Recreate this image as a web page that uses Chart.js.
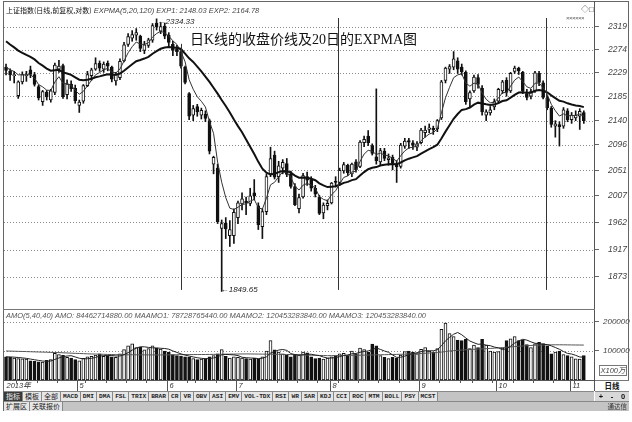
<!DOCTYPE html>
<html>
<head>
<meta charset="utf-8">
<script src="https://cdn.jsdelivr.net/npm/chart.js@4/dist/chart.umd.min.js"></script>
<style>
  html, body { margin: 0; padding: 0; background: #fff; }
  body { width: 632px; height: 422px; position: relative; overflow: hidden; font-family: "Liberation Sans", "Noto Sans CJK SC", sans-serif; }
  canvas { position: absolute; left: 0; }
  .abs { position: absolute; white-space: nowrap; }
  #frame { position: absolute; left: 3px; top: 1px; width: 626px; height: 410px; border: 1px solid #666; box-sizing: border-box; }
  #axisSep { position: absolute; left: 594px; top: 1px; width: 1px; height: 390px; background: #555; }
  #panelSep { position: absolute; left: 3px; top: 309px; width: 592px; height: 1px; background: #777; }
  #hdr { left: 6px; top: 5px; font-size: 7.5px; color: #111; line-height: 10px; }
  #hdr .cn { font-family: "Noto Sans CJK SC"; font-size: 7px; }
  #hdr .it { font-style: italic; color: #444; }
  #title { left: 190px; top: 31px; font-size: 14px; line-height: 18px; color: #111; font-family: "Liberation Serif", "Noto Sans CJK SC", serif; }
  #volHdr { left: 6px; top: 311px; font-size: 7.5px; font-style: italic; color: #555; line-height: 10px; }
  #marks { left: 566px; top: 15px; font-size: 6px; color: #555; letter-spacing: -0.5px; }
  #icons { left: 581px; top: 3px; font-size: 8px; color: #444; }
  #unit { left: 599px; top: 365px; width: 28px; height: 11px; border: 1px solid #777; box-sizing: border-box; font-size: 7.5px; font-style: italic; color: #444; text-align: center; line-height: 10px; }
  #tabs { left: 4px; top: 391px; width: 590px; height: 10px; background: #c4c4c4; border-top: 1px solid #888; box-sizing: border-box; display: flex; }
  #tabs span { display: block; height: 9px; line-height: 9px; padding: 0 2px; border-right: 1px solid #888; font-family: "Liberation Mono", monospace; font-weight: bold; font-size: 6.2px; color: #222; background: #e6e6e6; }
  #tabs span.cn { font-family: "Noto Sans CJK SC"; font-size: 7px; font-weight: normal; }
  #tabs span.on { background: #3a3a3a; color: #eee; }
  #row2 { left: 4px; top: 401px; width: 625px; height: 10px; background: #c4c4c4; border-top: 1px solid #888; box-sizing: border-box; display: flex; }
  #row2 span { display: block; height: 9px; line-height: 9px; padding: 0 2px; border-right: 1px solid #888; font-family: "Noto Sans CJK SC"; font-size: 7px; color: #222; background: #e6e6e6; }
  #sideTop { left: 595px; top: 380px; width: 34px; height: 11px; background: #fff; border-top: 1px solid #777; box-sizing: border-box; font-family: "Noto Sans CJK SC"; font-size: 7.5px; font-weight: bold; text-align: center; line-height: 10px; color: #111; }
  #pm { left: 595px; top: 391px; width: 34px; height: 10px; background: #d8d8d8; border-top: 1px solid #888; box-sizing: border-box; display: flex; justify-content: space-around; font-size: 7.5px; font-weight: bold; line-height: 9px; color: #111; }
  #brand { left: 596px; top: 402px; width: 31px; font-family: "Noto Sans CJK SC"; font-size: 6.5px; text-align: right; line-height: 9px; color: #333; }
</style>
</head>
<body>
<canvas id="priceChart" width="632" height="310" style="top:0"></canvas>
<canvas id="amountChart" width="632" height="92" style="top:300px"></canvas>
<div id="frame"></div>
<div id="axisSep"></div>
<div id="panelSep"></div>
<div id="hdr" class="abs"><span class="cn">上证指数(日线,前复权,对数)</span> <span class="it" id="hdrInd"></span></div>
<div id="title" class="abs">日K线的收盘价线及20日的EXPMA图</div>
<div id="marks" class="abs">××××××</div>
<div id="icons" class="abs">◇□</div>
<div id="volHdr" class="abs"></div>
<div id="unit" class="abs">X100万</div>
<div id="tabs" class="abs"></div>
<div id="row2" class="abs"><span>扩展区</span><span>关联报价</span></div>
<div id="sideTop" class="abs">日线</div>
<div id="pm" class="abs"><span>+</span><span>-</span><span>0</span></div>
<div id="brand" class="abs">通达信</div>
<script>
// ---- trading calendar (2013) ----
const tradingDays = [
  [4, [1,2,3,8,9,10,11,12,15,16,17,18,19,22,23,24,25,26]],
  [5, [2,3,6,7,8,9,10,13,14,15,16,17,20,21,22,23,24,27,28,29,30,31]],
  [6, [3,4,5,6,7,13,14,17,18,19,20,21,24,25,26,27,28]],
  [7, [1,2,3,4,5,8,9,10,11,12,15,16,17,18,19,22,23,24,25,26,29,30,31]],
  [8, [1,2,5,6,7,8,9,12,13,14,15,16,19,20,21,22,23,26,27,28,29,30]],
  [9, [2,3,4,5,6,9,10,11,12,13,16,17,18,23,24,25,26,27,30]],
  [10, [8,9,10,11,14,15,16,17,18,21,22,23,24,25,28,29,30,31]],
  [11, [1,4,5,6]]
];
const monthTickLabels = ['2013年', '5', '6', '7', '8', '9', '10', '11'];

// ---- daily prices ----
const open = [
  2240, 2232, 2224, 2186, 2212, 2224, 2235, 2226, 2203, 2175,
  2193, 2178, 2192, 2236, 2243, 2188, 2208, 2200, 2168, 2176,
  2205, 2224, 2236, 2248, 2236, 2248, 2240, 2214, 2220, 2252,
  2284, 2296, 2302, 2300, 2272, 2282, 2292, 2326, 2310, 2320,
  2302, 2284, 2276, 2270, 2240, 2190, 2150, 2166, 2150, 2152,
  2140, 2062, 2055, 1952, 1961, 1940, 1940, 1970, 1993, 1998,
  1994, 2012, 1990, 1955, 1980, 2045, 2078, 2040, 2055, 2063,
  2045, 2023, 1985, 2005, 2040, 2035, 2020, 2005, 1978, 1990,
  1995, 2032, 2030, 2050, 2060, 2045, 2066, 2058, 2100, 2112,
  2095, 2075, 2066, 2085, 2070, 2074, 2062, 2058, 2094, 2104,
  2100, 2092, 2100, 2118, 2124, 2126, 2125, 2145, 2215, 2236,
  2240, 2252, 2240, 2230, 2180, 2195, 2220, 2200, 2150, 2154,
  2165, 2176, 2195, 2215, 2195, 2232, 2238, 2230, 2190, 2185,
  2195, 2228, 2210, 2182, 2163, 2130, 2133, 2130, 2158, 2142,
  2145, 2148, 2155
];
const high = [
  2246, 2237, 2232, 2214, 2231, 2232, 2242, 2230, 2206, 2196,
  2196, 2198, 2248, 2253, 2246, 2216, 2214, 2206, 2178, 2207,
  2232, 2238, 2258, 2252, 2250, 2252, 2242, 2230, 2256, 2288,
  2305, 2311, 2315, 2302, 2290, 2296, 2325, 2334.33, 2327, 2326,
  2307, 2290, 2282, 2272, 2242, 2192, 2168, 2170, 2163, 2158,
  2143, 2076, 2062, 1966, 1970, 1965, 1985, 1998, 2012, 2005,
  2020, 2035, 1995, 1985, 2045, 2092, 2085, 2067, 2070, 2072,
  2050, 2028, 2010, 2046, 2048, 2040, 2025, 2008, 1995, 2000,
  2030, 2040, 2055, 2065, 2062, 2064, 2070, 2104, 2112, 2122,
  2098, 2198.85, 2090, 2090, 2080, 2078, 2068, 2099, 2108, 2108,
  2104, 2102, 2126, 2130, 2134, 2130, 2142, 2215, 2240, 2245,
  2270, 2258, 2246, 2233, 2195, 2225, 2226, 2205, 2160, 2166,
  2180, 2200, 2215, 2220, 2230, 2242, 2240, 2232, 2198, 2198,
  2232, 2232, 2214, 2186, 2166, 2140, 2138, 2164, 2162, 2155,
  2158, 2162, 2158
];
const low = [
  2225, 2215, 2210, 2181, 2208, 2213, 2220, 2204, 2178, 2168,
  2178, 2174, 2188, 2230, 2181, 2180, 2194, 2172, 2155, 2172,
  2203, 2215, 2234, 2232, 2230, 2233, 2212, 2206, 2216, 2250,
  2280, 2290, 2292, 2270, 2266, 2278, 2288, 2312, 2305, 2295,
  2280, 2262, 2262, 2238, 2208, 2142, 2140, 2148, 2143, 2138,
  2080, 2045, 1960, 1849.65, 1935, 1922, 1927, 1960, 1983, 1975,
  1990, 2000, 1950, 1935, 1975, 2040, 2036, 2030, 2045, 2040,
  2020, 1990, 1978, 2003, 2025, 2015, 2005, 1975, 1968, 1983,
  1993, 2022, 2025, 2046, 2042, 2040, 2048, 2056, 2093, 2095,
  2078, 2062, 2060, 2068, 2060, 2052, 2030, 2055, 2090, 2090,
  2088, 2086, 2098, 2110, 2118, 2115, 2120, 2142, 2210, 2228,
  2235, 2228, 2225, 2170, 2165, 2192, 2200, 2150, 2140, 2150,
  2160, 2172, 2190, 2185, 2192, 2228, 2226, 2190, 2178, 2180,
  2192, 2205, 2180, 2160, 2128, 2110, 2094, 2126, 2138, 2135,
  2140, 2124, 2135
];
const close = [
  2234, 2225, 2225, 2212, 2226, 2225, 2226, 2207, 2182, 2194,
  2184, 2195, 2244, 2242, 2184, 2208, 2199, 2177, 2174, 2205,
  2226, 2235, 2247, 2238, 2246, 2242, 2217, 2226, 2251, 2283,
  2299, 2303, 2307, 2276, 2283, 2293, 2321, 2319, 2319, 2300,
  2288, 2272, 2270, 2242, 2211, 2148, 2162, 2156, 2159, 2144,
  2085, 2074, 1963, 1960, 1951, 1950, 1979, 1995, 2002, 1995,
  2007, 2007, 1958, 1980, 2040, 2072, 2039, 2059, 2065, 2044,
  2023, 1992, 2004, 2042, 2034, 2020, 2010, 1977, 1991, 1994,
  2029, 2030, 2051, 2061, 2047, 2062, 2052, 2101, 2106, 2100,
  2081, 2068, 2086, 2072, 2073, 2064, 2057, 2096, 2103, 2101,
  2095, 2098, 2123, 2123, 2127, 2123, 2140, 2212, 2238, 2241,
  2256, 2236, 2231, 2175, 2192, 2221, 2207, 2156, 2156, 2160,
  2175, 2198, 2212, 2192, 2228, 2238, 2233, 2195, 2183, 2194,
  2229, 2211, 2183, 2164, 2133, 2134, 2129, 2160, 2142, 2150,
  2150, 2157, 2140
];

// ---- EXPMA(5,20) ----
const exp1 = [
  2240.0, 2235.0, 2231.7, 2225.3, 2225.5, 2225.3, 2225.6, 2219.4, 2206.9, 2202.6,
  2196.4, 2195.9, 2211.9, 2221.9, 2209.3, 2208.9, 2205.6, 2196.1, 2188.7, 2194.1,
  2204.7, 2214.8, 2225.5, 2229.7, 2235.1, 2237.4, 2230.6, 2229.1, 2236.4, 2251.9,
  2267.6, 2279.4, 2288.6, 2284.4, 2283.9, 2286.9, 2298.3, 2305.2, 2309.8, 2306.5,
  2300.3, 2290.9, 2283.9, 2269.9, 2250.3, 2216.2, 2198.1, 2184.1, 2175.7, 2165.1,
  2138.4, 2116.9, 2065.6, 2030.4, 2003.9, 1985.9, 1983.6, 1987.4, 1992.3, 1993.2,
  1997.8, 2000.9, 1986.6, 1984.4, 2002.9, 2025.9, 2030.3, 2039.9, 2048.3, 2046.9,
  2038.9, 2023.3, 2016.9, 2025.3, 2028.2, 2025.5, 2020.3, 2005.9, 2000.9, 1998.6,
  2008.7, 2015.8, 2027.5, 2038.7, 2041.5, 2048.3, 2049.5, 2066.7, 2079.8, 2086.5,
  2084.7, 2079.1, 2081.4, 2078.3, 2076.5, 2072.3, 2067.2, 2076.8, 2085.5, 2090.7,
  2092.1, 2094.1, 2103.7, 2110.1, 2115.7, 2118.1, 2125.4, 2154.3, 2182.2, 2201.8,
  2219.9, 2225.3, 2227.2, 2209.8, 2203.9, 2209.6, 2208.7, 2191.1, 2179.4, 2172.9,
  2173.6, 2181.7, 2191.8, 2191.9, 2203.9, 2215.3, 2221.2, 2212.5, 2202.7, 2199.8,
  2209.5, 2210.0, 2201.0, 2188.7, 2170.1, 2158.1, 2148.4, 2152.3, 2148.9, 2149.3,
  2149.5, 2152.0, 2148.03
];
const exp2 = [
  2290.0, 2283.8, 2278.2, 2271.9, 2267.5, 2263.5, 2259.9, 2254.9, 2247.9, 2242.8,
  2237.2, 2233.2, 2234.2, 2234.9, 2230.1, 2228.0, 2225.2, 2220.6, 2216.2, 2215.1,
  2216.2, 2218.0, 2220.7, 2222.4, 2224.6, 2226.3, 2225.4, 2225.5, 2227.9, 2233.1,
  2239.4, 2245.5, 2251.3, 2253.7, 2256.5, 2259.9, 2265.8, 2270.8, 2275.4, 2277.8,
  2278.7, 2278.1, 2277.3, 2275.0, 2266.0, 2257.0, 2250.0, 2241.0, 2232.0, 2222.0,
  2212.0, 2201.0, 2190.0, 2178.0, 2167.0, 2155.0, 2142.0, 2130.0, 2119.0, 2106.0,
  2093.0, 2080.0, 2066.0, 2054.0, 2047.0, 2044.0, 2045.0, 2048.0, 2050.0, 2049.7,
  2047.1, 2041.9, 2038.3, 2038.6, 2038.2, 2036.5, 2033.9, 2028.5, 2025.0, 2022.0,
  2022.7, 2023.4, 2026.0, 2029.3, 2031.0, 2034.0, 2035.7, 2041.9, 2048.0, 2053.0,
  2055.6, 2056.8, 2059.6, 2060.8, 2061.9, 2062.1, 2061.7, 2064.9, 2068.6, 2071.6,
  2073.9, 2076.2, 2080.6, 2084.7, 2088.7, 2092.0, 2096.5, 2107.5, 2120.0, 2131.5,
  2143.3, 2152.2, 2159.7, 2161.1, 2164.1, 2169.5, 2173.1, 2171.5, 2170.0, 2169.0,
  2169.6, 2172.3, 2176.1, 2177.6, 2182.4, 2187.7, 2192.0, 2192.3, 2191.4, 2191.6,
  2195.2, 2196.7, 2195.4, 2192.4, 2186.7, 2181.7, 2176.7, 2175.1, 2171.9, 2169.8,
  2167.9, 2166.9, 2164.78
];

// ---- turnover (units of 1,000,000 yuan) ----
const amount = [
  80000, 78000, 76000, 74000, 73000, 72000, 66000, 64000, 63000, 62000,
  68000, 70000, 92000, 88000, 85000, 78000, 76000, 70000, 66000, 75000,
  80000, 82000, 86000, 90000, 82000, 84000, 80000, 78000, 90000, 105000,
  118000, 125000, 112000, 113000, 104000, 108000, 118000, 110000, 107000, 100000,
  96000, 88000, 84000, 82000, 80000, 78000, 74000, 70000, 72000, 74000,
  80000, 84000, 90000, 105000, 82000, 76000, 80000, 78000, 76000, 74000,
  72000, 76000, 72000, 80000, 100000, 136000, 104000, 96000, 90000, 85000,
  80000, 88000, 86000, 96000, 94000, 80000, 74000, 76000, 72000, 76000,
  80000, 84000, 90000, 92000, 86000, 100000, 90000, 110000, 105000, 96000,
  124000, 118000, 84000, 78000, 74000, 78000, 76000, 86000, 98000, 100000,
  96000, 90000, 106000, 112000, 100000, 96000, 108000, 175000, 196000, 160000,
  150000, 138000, 136000, 140000, 108000, 120000, 112000, 140000, 120000, 100000,
  96000, 98000, 110000, 136000, 142000, 150000, 136000, 138000, 122000, 112000,
  125000, 130000, 126000, 118000, 90000, 96000, 100000, 88000, 84000, 80000,
  73000, 72180, 84462.71488
];
const amountMa1 = [
  80000, 79600, 78800, 77600, 76200, 74600, 72200, 69800, 67600, 65400,
  64600, 65400, 71000, 76000, 80600, 82600, 83800, 79400, 75000, 73000,
  73400, 74600, 77800, 82600, 84000, 84800, 84400, 82800, 82800, 87400,
  94200, 103200, 110000, 114600, 114400, 112400, 111000, 110600, 109400, 108600,
  106200, 100200, 95000, 90000, 86000, 82400, 79600, 76800, 74800, 73600,
  74000, 76000, 80000, 86600, 88200, 87400, 86600, 84200, 78400, 76800,
  76000, 75200, 74000, 74800, 80000, 92800, 98400, 103200, 105200, 102200,
  91000, 87800, 85800, 87000, 88800, 88800, 86000, 84000, 79200, 75600,
  75600, 77600, 80400, 84400, 86400, 90400, 91600, 95600, 98200, 100200,
  105000, 110600, 105400, 100000, 95600, 86400, 78000, 78400, 82400, 87600,
  91200, 94000, 98000, 100800, 100800, 100800, 104400, 118200, 135000, 147000,
  157800, 163800, 156000, 144800, 134400, 128400, 123200, 124000, 120000, 118400,
  113600, 110800, 104800, 108000, 116400, 127200, 134800, 140400, 137600, 131600,
  126600, 125400, 123000, 122200, 117800, 112000, 106000, 98400, 91600, 89600,
  85000, 79400, 78728.76544
];
const amountMa2 = [
  100000, 99600, 99200, 98800, 98400, 98000, 97500, 97000, 96600, 96200,
  95800, 95200, 94800, 94400, 93800, 93200, 92600, 92000, 91400, 90800,
  90200, 89800, 89400, 89000, 88600, 88200, 87800, 87400, 87200, 87000,
  87000, 87000, 86900, 86800, 86700, 86600, 86600, 86500, 86500, 86500,
  86700, 86900, 87100, 87300, 87500, 87600, 87700, 87800, 87900, 88000,
  88200, 88400, 88600, 88800, 89000, 89200, 89400, 89600, 89800, 89900,
  89800, 89600, 89400, 89200, 89000, 88800, 88600, 88400, 88200, 88000,
  87600, 87200, 86800, 86400, 86000, 85600, 85200, 84800, 84400, 83900,
  84000, 84200, 84400, 84600, 84800, 85000, 85200, 85500, 85800, 86000,
  86300, 86700, 87000, 87300, 87600, 88000, 88300, 88700, 89100, 89600,
  90200, 90800, 91400, 92200, 93000, 93800, 94600, 96200, 98200, 100000,
  101200, 102300, 103300, 104200, 105000, 105800, 106600, 107400, 108100, 108800,
  109800, 110800, 111900, 113000, 114100, 115200, 116300, 117300, 118200, 119100,
  120000, 120400, 120800, 121100, 121300, 121400, 121400, 121300, 121100, 120900,
  120700, 120600, 120453.28384
];

// ---- axis ticks ----
const priceTicks = [1873, 1917, 1962, 2007, 2051, 2096, 2140, 2185, 2229, 2274, 2319];
const amountTicks = [100000, 200000];
// vertical guide lines on the price panel: category position and the price they start from
const guideLines = [
  { at: 43, from: 2285 },
  { at: 81.6, from: null },
  { at: 132.6, from: null }
];

// ---- build categories ----
const dates = [];
const monthStart = [];
tradingDays.forEach(([m, days]) => {
  monthStart.push(dates.length);
  days.forEach(d => dates.push('2013-' + String(m).padStart(2, '0') + '-' + String(d).padStart(2, '0')));
});
const categories = dates.concat(['', ' ']);
const n = dates.length;
const last = a => a[a.length - 1];
const isUp = i => close[i] >= open[i];

// header texts
document.getElementById('hdrInd').textContent =
  'EXPMA(5,20,120)  EXP1: ' + last(exp1).toFixed(2) + '  EXP2: ' + last(exp2).toFixed(2);
document.getElementById('volHdr').textContent =
  'AMO(5,40,40)  AMO: ' + (last(amount) * 1e6).toFixed(2) +
  '  MAAMO1: ' + (last(amountMa1) * 1e6).toFixed(2) +
  '  MAAMO2: ' + (last(amountMa2) * 1e6).toFixed(2) +
  '  MAAMO3: ' + (last(amountMa2) * 1e6).toFixed(2);

const tabNames = ['指标', '模板', '全部', 'MACD', 'DMI', 'DMA', 'FSL', 'TRIX', 'BRAR', 'CR', 'VR', 'OBV', 'ASI', 'EMV',
  'VOL-TDX', 'RSI', 'WR', 'SAR', 'KDJ', 'CCI', 'ROC', 'MTM', 'BOLL', 'PSY', 'MCST'];
const tabs = document.getElementById('tabs');
tabNames.forEach((t, i) => {
  const s = document.createElement('span');
  s.textContent = t;
  if (i < 3) s.className = 'cn' + (i === 0 ? ' on' : '');
  tabs.appendChild(s);
});

Chart.defaults.font.family = '"Liberation Sans", sans-serif';
Chart.defaults.animation = false;

const axisFont = { size: 8, style: 'italic', family: '"Liberation Sans", sans-serif' };

// dotted horizontal grid at the tick values
function dottedGrid(chart, values) {
  const { ctx, chartArea, scales: { y } } = chart;
  ctx.save();
  ctx.strokeStyle = '#8a8a8a';
  ctx.lineWidth = 1;
  ctx.setLineDash([1, 2]);
  values.forEach(v => {
    const py = Math.round(y.getPixelForValue(v)) + 0.5;
    ctx.beginPath();
    ctx.moveTo(chartArea.left, py);
    ctx.lineTo(chartArea.right, py);
    ctx.stroke();
  });
  ctx.restore();
}

// grid, guide lines and extreme labels on the price panel
const pricePlugin = {
  id: 'pricePlugin',
  beforeDatasetsDraw(chart) { dottedGrid(chart, priceTicks); },
  afterDatasetsDraw(chart) {
    const { ctx, chartArea, scales: { x, y } } = chart;
    ctx.save();
    ctx.strokeStyle = '#333';
    ctx.lineWidth = 1;
    guideLines.forEach(g => {
      const px = Math.round(x.getPixelForValue(g.at)) + 0.5;
      const top = g.from ? y.getPixelForValue(g.from) : chartArea.top + 1;
      ctx.beginPath();
      ctx.moveTo(px, top);
      ctx.lineTo(px, chartArea.bottom - 6);
      ctx.stroke();
    });
    let hi = 0, lo = 0;
    for (let i = 1; i < n; i++) {
      if (high[i] > high[hi]) hi = i;
      if (low[i] < low[lo]) lo = i;
    }
    ctx.fillStyle = '#222';
    ctx.font = 'italic 8px "Liberation Sans"';
    ctx.textBaseline = 'middle';
    ctx.textAlign = 'left';
    ctx.fillText('\u2190' + high[hi].toFixed(2), x.getPixelForValue(hi) + 1, y.getPixelForValue(high[hi]) + 3);
    ctx.fillText('\u2190' + low[lo].toFixed(2), x.getPixelForValue(lo) - 1, y.getPixelForValue(low[lo]) - 2);
    ctx.restore();
  }
};

new Chart(document.getElementById('priceChart'), {
  data: {
    labels: categories,
    datasets: [
      { type: 'line', data: exp2, borderColor: '#111', borderWidth: 2, pointRadius: 0, tension: 0, order: -2 },
      { type: 'line', data: exp1, borderColor: '#333', borderWidth: 1, pointRadius: 0, tension: 0, order: -1 },
      {
        type: 'bar', data: open.map((o, i) => [Math.min(o, close[i]), Math.max(o, close[i])]),
        backgroundColor: open.map((o, i) => isUp(i) ? '#fff' : '#111'),
        borderColor: '#111', borderWidth: 1, borderSkipped: false, barThickness: 3, minBarLength: 1,
        grouped: false, order: 0
      },
      {
        type: 'bar', data: low.map((l, i) => [l, high[i]]),
        backgroundColor: '#111', borderWidth: 0, barThickness: 1, grouped: false, order: 1
      }
    ]
  },
  options: {
    responsive: false, devicePixelRatio: 1, animation: false,
    layout: { padding: { left: 4, top: 17, right: 0, bottom: 1 } },
    plugins: { legend: { display: false }, tooltip: { enabled: false } },
    scales: {
      x: { type: 'category', offset: true, display: false },
      y: {
        type: 'logarithmic', position: 'right', min: 1842.6, max: 2338,
        afterBuildTicks: s => { s.ticks = priceTicks.map(v => ({ value: v })); },
        afterFit: s => { s.width = 38; },
        ticks: { font: { size: 8.5, style: 'italic', family: '"Liberation Sans", sans-serif' }, color: '#444', padding: 9, callback: v => String(v) },
        grid: { drawOnChartArea: false, tickLength: 5, tickColor: '#666' },
        border: { display: true, color: '#555' }
      }
    }
  },
  plugins: [pricePlugin]
});

// grid and date row for the turnover panel
const datePlugin = {
  id: 'datePlugin',
  beforeDatasetsDraw(chart) { dottedGrid(chart, amountTicks); },
  afterDraw(chart) {
    const { ctx, chartArea, scales: { x } } = chart;
    const top = chartArea.bottom, h = 11;
    ctx.save();
    ctx.fillStyle = '#fff';
    ctx.fillRect(chartArea.left, top, chartArea.right - chartArea.left, h);
    ctx.strokeStyle = '#555';
    ctx.lineWidth = 1;
    ctx.beginPath(); ctx.moveTo(chartArea.left - 1, top + 0.5); ctx.lineTo(chartArea.right, top + 0.5); ctx.stroke();
    const step = x.getPixelForValue(1) - x.getPixelForValue(0);
    for (let i = 1; i < n; i++) {
      const d0 = new Date(dates[i - 1]).getUTCDay(), d1 = new Date(dates[i]).getUTCDay();
      if (d1 < d0 && !monthStart.includes(i)) {
        const px = Math.round(x.getPixelForValue(i) - step / 2) + 0.5;
        ctx.beginPath(); ctx.moveTo(px, top); ctx.lineTo(px, top + 3); ctx.stroke();
      }
    }
    ctx.fillStyle = '#333';
    ctx.font = 'italic 7.5px "Liberation Sans", "Noto Sans CJK SC"';
    ctx.textBaseline = 'middle';
    monthStart.forEach((idx, k) => {
      const px = Math.round(x.getPixelForValue(idx) - step / 2) + 0.5;
      if (k > 0) { ctx.beginPath(); ctx.moveTo(px, top); ctx.lineTo(px, top + h); ctx.stroke(); }
      ctx.fillText(monthTickLabels[k], px + 2, top + 6);
    });
    ctx.restore();
  }
};

new Chart(document.getElementById('amountChart'), {
  data: {
    labels: categories,
    datasets: [
      { type: 'line', data: amountMa1, borderColor: '#222', borderWidth: 1, pointRadius: 0, tension: 0, order: -2 },
      { type: 'line', data: amountMa2, borderColor: '#555', borderWidth: 1, pointRadius: 0, tension: 0, order: -1 },
      {
        type: 'bar', data: amount,
        backgroundColor: amount.map((v, i) => isUp(i) ? '#fff' : '#111'),
        borderColor: '#111', borderWidth: 1, borderSkipped: false, barThickness: 3, order: 0
      }
    ]
  },
  options: {
    responsive: false, devicePixelRatio: 1, animation: false,
    layout: { padding: { left: 4, top: 10, right: 0, bottom: 12 } },
    plugins: { legend: { display: false }, tooltip: { enabled: false } },
    scales: {
      x: { type: 'category', offset: true, display: false },
      y: {
        type: 'linear', position: 'right', min: 0, max: 241379,
        afterBuildTicks: s => { s.ticks = amountTicks.map(v => ({ value: v })); },
        afterFit: s => { s.width = 38; },
        ticks: { font: axisFont, color: '#444', padding: 4, callback: v => String(v) },
        grid: { drawOnChartArea: false, tickLength: 5, tickColor: '#666' },
        border: { display: true, color: '#555' }
      }
    }
  },
  plugins: [datePlugin]
});
</script>
</body>
</html>
